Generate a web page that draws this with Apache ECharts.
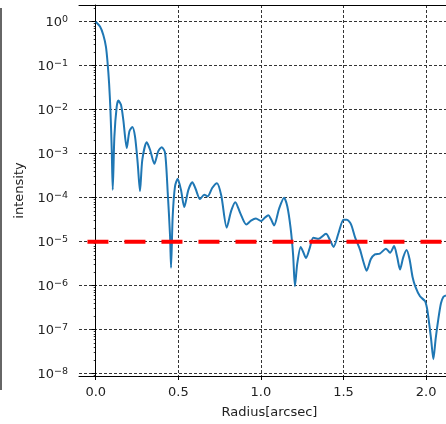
<!DOCTYPE html>
<html>
<head>
<meta charset="utf-8">
<script src="https://cdn.jsdelivr.net/npm/echarts@6/dist/echarts.min.js"></script>
<style>html,body{margin:0;padding:0;background:#fff}#c{width:446px;height:424px}</style>
</head>
<body>
<div id="c"></div>
<script>
// Radius [arcsec]
const radius = [0.000,0.026,0.046,0.062,0.072,0.081,0.089,0.097,0.103,0.113,0.127,0.137,0.153,0.167,0.188,0.204,0.222,0.238,0.254,0.268,0.282,0.309,0.329,0.355,0.379,0.400,0.420,0.436,0.450,0.456,0.466,0.480,0.496,0.516,0.536,0.561,0.585,0.605,0.631,0.657,0.678,0.705,0.734,0.760,0.793,0.820,0.845,0.875,0.912,0.940,0.970,1.000,1.025,1.045,1.060,1.080,1.110,1.140,1.160,1.180,1.195,1.206,1.220,1.241,1.258,1.273,1.295,1.317,1.350,1.394,1.420,1.440,1.470,1.500,1.520,1.545,1.570,1.600,1.620,1.640,1.665,1.690,1.720,1.757,1.782,1.806,1.825,1.842,1.862,1.882,1.900,1.918,1.935,1.963,1.993,2.005,2.013,2.030,2.044,2.058,2.074,2.090,2.105,2.120];
// intensity
const intensity = [1,0.776,0.501,0.269,0.115,0.0398,0.01,1.23e-3,1.51e-4,2.45e-3,1.17e-2,1.62e-2,1.29e-2,5.89e-3,1.35e-3,3.24e-3,4.07e-3,2.45e-3,6.17e-4,1.41e-4,7.24e-4,1.82e-3,1.23e-3,5.89e-4,1.15e-3,1.41e-3,1.05e-3,1.29e-4,1.35e-5,2.57e-6,3.80e-5,1.82e-4,2.69e-4,1.51e-4,6.17e-5,1.51e-4,2.24e-4,1.58e-4,9.33e-5,1.17e-4,1.07e-4,1.66e-4,2.14e-4,1.12e-4,2.09e-5,5.01e-5,7.94e-5,4.47e-5,2.45e-5,3.02e-5,3.39e-5,2.95e-5,3.55e-5,3.98e-5,3.31e-5,2.34e-5,5.62e-5,1.0e-4,6.31e-5,2.0e-5,5.01e-6,9.77e-7,3.16e-6,7.59e-6,5.62e-6,4.27e-6,7.08e-6,1.23e-5,1.17e-5,1.51e-5,1.05e-5,7.59e-6,1.58e-5,3.16e-5,3.16e-5,2.51e-5,1.26e-5,6.61e-6,3.55e-6,2.19e-6,3.98e-6,5.13e-6,5.37e-6,6.92e-6,5.62e-6,7.94e-6,4.47e-6,2.34e-6,4.47e-6,6.46e-6,3.98e-6,1.58e-6,9.55e-7,5.75e-7,4.47e-7,3.16e-7,2.0e-7,6.31e-8,2.14e-8,6.31e-8,1.74e-7,3.98e-7,5.62e-7,6.03e-7];
// threshold line
const thresholdX = [-0.05, 2.25];
const thresholdY = [1e-5, 1e-5];
// ticks
const xTicks = [0, 0.5, 1.0, 1.5, 2.0];
const yTicks = [1e-8,1e-7,1e-6,1e-5,1e-4,1e-3,1e-2,1e-1,1e0];
const yMinorTicks = [];
for (let e = -9; e <= 0; e++) { for (let m = 2; m <= 9; m++) { const v = m * Math.pow(10, e); if (v > 8.9e-9 && v < 2.4) yMinorTicks.push(v); } }

function fmtPow(v){ const e = Math.round(Math.log10(v)); return '{b|10}{s|' + String(e).replace('-', '\u2212') + '}'; }

const font = 'DejaVu Sans';
const txt = '#222';
const chart = echarts.init(document.getElementById('c'), null, {renderer:'canvas'});
chart.setOption({
  animation: false,
  grid: {left: 79, right: 0, top: 5, bottom: 47, containLabel: false},
  xAxis: [{
    type: 'value', min: -0.1012, max: 2.1205,
    name: 'Radius[arcsec]', nameLocation: 'middle', nameGap: 30,
    nameTextStyle: {fontFamily: font, fontSize: 13, color: txt, padding: [0, 0, 0, 14]},
    axisLine: {show: true, onZero: false, lineStyle: {color: '#000', width: 1}},
    axisTick: {show: true, inside: false, length: 4, customValues: xTicks, lineStyle: {color: '#000'}},
    axisLabel: {customValues: xTicks, fontFamily: font, fontSize: 13, color: txt, margin: 10,
      formatter: v => v.toFixed(1)},
    splitLine: {show: true, lineStyle: {color: '#333', width: 1, type: [3, 2]}}
  }, {
    type: 'value', position: 'top', min: -0.1012, max: 2.1205,
    axisLine: {show: true, onZero: false, lineStyle: {color: '#000', width: 1}},
    axisTick: {show: false}, axisLabel: {show: false}, splitLine: {show: false}
  }],
  yAxis: [{
    type: 'log', logBase: 10, min: 8.87e-9, max: 2.4,
    name: 'intensity', nameLocation: 'middle', nameGap: 48, nameRotate: 90,
    nameTextStyle: {fontFamily: font, fontSize: 13, color: txt},
    axisLine: {show: true, lineStyle: {color: '#000', width: 1}},
    axisTick: {show: true, length: 4, customValues: yTicks, lineStyle: {color: '#000'}},
    axisLabel: {customValues: yTicks, margin: 11, formatter: fmtPow,
      rich: {
        b: {fontFamily: font, fontSize: 13, color: txt, lineHeight: 14, verticalAlign: 'bottom'},
        s: {fontFamily: font, fontSize: 9.5, color: txt, lineHeight: 10, verticalAlign: 'top'}
      }},
    splitLine: {show: true, lineStyle: {color: '#333', width: 1, type: [3, 2]}}
  }, {
    type: 'log', logBase: 10, min: 8.87e-9, max: 2.4, position: 'left',
    axisLine: {show: false},
    axisTick: {show: true, length: 2, customValues: yMinorTicks, lineStyle: {color: '#000', width: 0.8}},
    axisLabel: {show: false}, splitLine: {show: false}
  }],
  series: [{
    type: 'line', xAxisIndex: 0, yAxisIndex: 0,
    data: radius.map((r, i) => [r, intensity[i]]),
    showSymbol: false, smooth: 0.25,
    lineStyle: {color: '#1f77b4', width: 2},
    clip: true, z: 3
  }, {
    type: 'line', xAxisIndex: 0, yAxisIndex: 0,
    data: thresholdX.map((x, i) => [x, thresholdY[i]]),
    showSymbol: false,
    lineStyle: {color: '#ff0000', width: 4, type: [21, 16], cap: 'butt'},
    clip: true, z: 4
  }],
  graphic: [{
    type: 'line', shape: {x1: 1, y1: 8, x2: 1, y2: 390},
    style: {stroke: '#333', lineWidth: 1.5}, silent: true
  }]
});
</script>
</body>
</html>
